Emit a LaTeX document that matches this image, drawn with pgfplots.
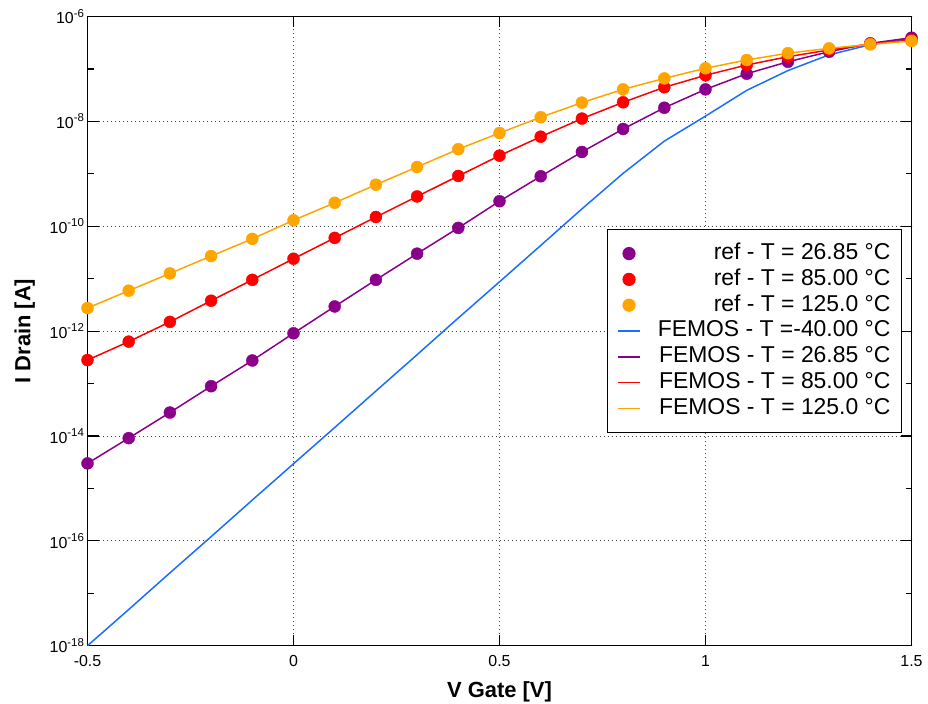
\documentclass[border=0pt]{standalone}
\usepackage{fontspec}
\setmainfont{Liberation Sans}
\usepackage{pgfplots}
\pgfplotsset{compat=1.18}
\usepackage{pgfplotstable}

\definecolor{cpurple}{RGB}{139,0,139}
\definecolor{cred}{RGB}{255,0,0}
\definecolor{corange}{RGB}{255,165,0}
\definecolor{cblue}{RGB}{25,110,255}

\newcommand\tl[1]{10\raisebox{0.42em}{\fontsize{11.5}{12}\selectfont #1}}

\pgfplotsset{
  markleg/.style={legend image code/.code={\draw[mark repeat=1,mark phase=1,##1] plot coordinates {(11bp,0bp)};}},
  lineleg/.style={legend image code/.code={\draw[##1] (0bp,0bp) -- (22bp,0bp);}},
}

\pgfplotstableread{
x y
-0.5 3.0e-15
-0.4 9.1e-15
-0.3 2.8e-14
-0.2 8.9e-14
-0.1 2.75e-13
0.0 9.1e-13
0.1 2.95e-12
0.2 9.5e-12
0.3 3.0e-11
0.4 9.3e-11
0.5 3.0e-10
0.6 8.97e-10
0.7 2.61e-9
0.8 7.16e-9
0.9 1.82e-8
1.0 4.08e-8
1.1 8.1e-8
1.2 1.37e-7
1.3 2.13e-7
1.4 3.08e-7
1.5 3.94e-7
}\tpurple

\pgfplotstableread{
x y
-0.5 2.8e-13
-0.4 6.3e-13
-0.3 1.5e-12
-0.2 3.8e-12
-0.1 9.5e-12
0.0 2.4e-11
0.1 6.0e-11
0.2 1.5e-10
0.3 3.7e-10
0.4 9.1e-10
0.5 2.22e-9
0.6 5.1e-9
0.7 1.13e-8
0.8 2.31e-8
0.9 4.47e-8
1.0 7.57e-8
1.1 1.19e-7
1.2 1.71e-7
1.3 2.3e-7
1.4 2.99e-7
1.5 3.56e-7
}\tred

\pgfplotstableread{
x y
-0.5 2.75e-12
-0.4 5.9e-12
-0.3 1.26e-11
-0.2 2.7e-11
-0.1 5.75e-11
0.0 1.30e-10
0.1 2.8e-10
0.2 6.2e-10
0.3 1.35e-9
0.4 2.95e-9
0.5 6.0e-9
0.6 1.2e-8
0.7 2.28e-8
0.8 4.08e-8
0.9 6.6e-8
1.0 1.03e-7
1.1 1.48e-7
1.2 2.0e-7
1.3 2.47e-7
1.4 2.95e-7
1.5 3.41e-7
}\torange

\pgfplotstableread{
x y
-0.5 1.0e-18
-0.4 4.9e-18
-0.3 2.45e-17
-0.2 1.2e-16
-0.1 6.0e-16
0.0 2.95e-15
0.1 1.45e-14
0.2 7.2e-14
0.3 3.55e-13
0.4 1.78e-12
0.5 8.7e-12
0.6 4.3e-11
0.7 2.14e-10
0.8 1.02e-9
0.9 4.2e-9
1.0 1.26e-8
1.1 3.9e-8
1.2 9.3e-8
1.3 1.86e-7
1.4 2.9e-7
1.5 3.8e-7
}\tblue

\begin{document}
\begin{tikzpicture}
\begin{axis}[
  scale only axis,
  width=824bp, height=629.2bp,
  ymode=log,
  xmin=-0.5, xmax=1.5, ymin=1e-18, ymax=1e-6,
  xtick={-0.5,0,0.5,1,1.5},
  xticklabels={-0.5,0,0.5,1,1.5},
  ytick={1e-18,1e-16,1e-14,1e-12,1e-10,1e-8,1e-6},
  yticklabels={\tl{-18},\tl{-16},\tl{-14},\tl{-12},\tl{-10},\tl{-8},\tl{-6}},
  minor ytick={1e-17,1e-15,1e-13,1e-11,1e-9,1e-7},
  ticklabel style={font=\fontsize{16}{19}\selectfont},
  xticklabel style={yshift=-6bp},
  grid=major,
  major grid style={black!75, line width=0.9bp, dash pattern=on 1bp off 3bp},
  axis line style={line width=1.5bp},
  tick style={black, line width=1.2bp},
  major tick length=11bp,
  minor tick length=6bp,
  xlabel={\bfseries V Gate [V]},
  ylabel={\bfseries I Drain [A]},
  label style={font=\fontsize{22}{26}\selectfont},
  xlabel style={yshift=-8bp},
  ylabel style={yshift=8bp},
  legend cell align=right,
  legend style={at={(0.9885,0.6623)}, anchor=north east, draw=black,
    line width=1.2bp, font=\fontsize{23}{25.8}\selectfont,
    inner xsep=10bp, inner ysep=12bp, row sep=1.8bp, column sep=16bp,
    nodes={inner sep=1bp, text height=17bp, text depth=5bp}},
]
\addlegendimage{markleg, only marks, mark=*, mark size=6bp, color=cpurple}
\addlegendentry{ref - T = 26.85 °C}
\addlegendimage{markleg, only marks, mark=*, mark size=6bp, color=cred}
\addlegendentry{ref - T = 85.00 °C}
\addlegendimage{markleg, only marks, mark=*, mark size=6bp, color=corange}
\addlegendentry{ref - T = 125.0 °C}
\addlegendimage{lineleg, no marks, line width=1.5bp, color=cblue, draw=cblue}
\addlegendentry{FEMOS - T =-40.00 °C}
\addlegendimage{lineleg, no marks, line width=1.5bp, color=cpurple, draw=cpurple}
\addlegendentry{FEMOS - T = 26.85 °C}
\addlegendimage{lineleg, no marks, line width=1.5bp, color=cred, draw=cred}
\addlegendentry{FEMOS - T = 85.00 °C}
\addlegendimage{lineleg, no marks, line width=1.5bp, color=corange, draw=corange}
\addlegendentry{FEMOS - T = 125.0 °C}

\addplot[forget plot, no marks, line width=1.5bp, color=cblue] table[x=x,y=y] {\tblue};
\addplot[forget plot, no marks, line width=1.5bp, color=cpurple] table[x=x,y=y] {\tpurple};
\addplot[forget plot, no marks, line width=1.5bp, color=cred] table[x=x,y=y] {\tred};
\addplot[forget plot, no marks, line width=1.5bp, color=corange] table[x=x,y=y] {\torange};
\addplot[forget plot, only marks, mark=*, mark size=6bp, color=cpurple] table[x=x,y=y] {\tpurple};
\addplot[forget plot, only marks, mark=*, mark size=6bp, color=cred] table[x=x,y=y] {\tred};
\addplot[forget plot, only marks, mark=*, mark size=6bp, color=corange] table[x=x,y=y] {\torange};
\end{axis}
\pgfresetboundingbox
\path[use as bounding box] (current axis.south west) ++(-87.5bp,-58.3bp) rectangle ++(928bp,704bp);
\end{tikzpicture}
\end{document}
